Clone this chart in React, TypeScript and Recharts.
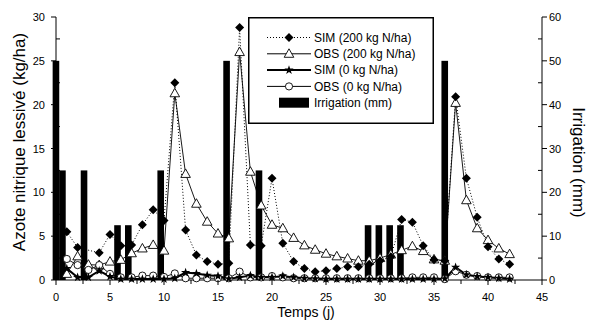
import { Bar, ComposedChart, Label, Legend, Line, XAxis, YAxis } from "recharts";

const FONT = "'Liberation Sans', Arial, sans-serif";

// days 0..42
const days = Array.from({ length: 43 }, (_, i) => i);

const sim200 = [
  null, 5.5, 3.7, null, 3.1, 5.2, 3.9, 4.0, 6.3, 8.0, 6.8,
  22.5, 5.7, 2.85, 2.1, 1.8, 1.9, 28.8, 4.0, 3.9, 11.6,
  4.2, 2.1, 1.3, 0.95, 1.05, 1.3, 1.5, 1.5, 1.8, 2.2,
  2.65, 6.9, 6.6, 3.9, 2.3, 2.2, 20.9, 11.6, 7.15, 3.8,
  2.4, 1.8,
];
const obs200 = [
  null, 0.7, 2.7, 1.75, 1.7, 2.1, 2.3, 3.05, 3.6, 4.0, 3.35,
  21.3, 12.1, 8.7, 6.65, 5.3, 4.75, 26.0, 12.35, 8.5, 6.3,
  5.9, 4.8, 3.95, 3.45, 3.0, 2.7, 2.45, 2.2, 2.2, 2.5,
  2.9, 3.4, 3.85, 3.3, 2.35, 2.2, 20.2, 9.1, 5.9, 4.55,
  3.6, 2.95,
];
const sim0 = [
  null, 1.3, 0.3, 0.3, 1.05, 0.4, 0.1, 0.1, 0.1, 0.1, 0.1,
  0.2, 0.85, 0.75, 0.55, 0.45, 0.15, 0.3, 0.5, 0.3, 0.3,
  0.45, 0.3, 0.2, 0.15, 0.1, 0.1, 0.1, 0.1, 0.1, 0.1,
  0.1, 0.1, 0.1, 0.1, 0.1, 0.15, 1.45, 0.6, 0.4, 0.3,
  0.2, 0.1,
];
const obs0 = [
  null, 2.4, 1.7, 1.15, 1.7, 0.7, 0.3, 0.3, 0.5, 0.5, 0.35,
  0.75, 0.2, 0.2, 0.2, 0.2, 0.2, 0.95, 0.3, 0.3, 0.45,
  0.3, 0.2, 0.2, 0.2, 0.2, 0.2, 0.2, 0.2, 0.2, 0.2,
  0.2, 0.2, 0.3, 0.3, 0.3, 0.1, 1.0, 0.6, 0.45, 0.3,
  0.3, 0.3,
];

const irrigDays = [0, 0.6, 2.6, 5.7, 6.7, 9.7, 15.8, 18.8, 28.9, 29.9, 30.9, 31.9, 36];
const irrigMm = [50, 25, 25, 12.5, 12.5, 25, 50, 25, 12.5, 12.5, 12.5, 12.5, 50];

const xTicks = [0, 2.5, 5, 7.5, 10, 12.5, 15, 17.5, 20, 22.5, 25, 27.5, 30, 32.5, 35, 37.5, 40, 42.5, 45];
const leftTicks = [0, 2.5, 5, 7.5, 10, 12.5, 15, 17.5, 20, 22.5, 25, 27.5, 30];
const rightTicks = [0, 5, 10, 15, 20, 25, 30, 35, 40, 45, 50, 55, 60];

const legendNames = [
  "SIM (200 kg N/ha)",
  "OBS (200 kg N/ha)",
  "SIM (0 kg N/ha)",
  "OBS (0 kg N/ha)",
  "Irrigation (mm)",
];

const toSeries = (vals: (number | null)[]) =>
  days.map((d, i) => ({ day: d, v: vals[i] })).filter((p) => p.v !== null);

const irrigData = irrigDays.map((d, i) => ({ day: d, mm: irrigMm[i] }));

// markers
const Diamond = ({ cx, cy }: any) => (
  <path d={`M${cx},${cy - 4.5}L${cx + 4.5},${cy}L${cx},${cy + 4.5}L${cx - 4.5},${cy}Z`} fill="#000" />
);
const Triangle = ({ cx, cy }: any) => (
  <path
    d={`M${cx},${cy - 5}L${cx + 4.8},${cy + 3.5}L${cx - 4.8},${cy + 3.5}Z`}
    fill="#fff"
    stroke="#000"
    strokeWidth={0.9}
  />
);
const Star = ({ cx, cy }: any) => {
  let d = "";
  for (let i = 0; i < 10; i++) {
    const r = i % 2 === 0 ? 4.8 : 1.9;
    const a = -Math.PI / 2 + (i * Math.PI) / 5;
    d += `${i === 0 ? "M" : "L"}${cx + r * Math.cos(a)},${cy + r * Math.sin(a)}`;
  }
  return <path d={d + "Z"} fill="#000" />;
};
const Circ = ({ cx, cy }: any) => <circle cx={cx} cy={cy} r={3.6} fill="#fff" stroke="#000" strokeWidth={0.9} />;

const dotOf = (Comp: any) => (p: any) =>
  p.cx == null ? <g key={p.key ?? p.index} /> : <Comp key={p.key ?? p.index} cx={p.cx} cy={p.cy} />;

// ticks
const bottomTick = (p: any) => {
  const v = p.payload.value;
  const major = v % 5 === 0;
  return (
    <g>
      <line x1={p.x} x2={p.x} y1={p.y} y2={p.y + (major ? 5 : 4)} stroke="#000" />
      {major && (
        <text x={p.x} y={p.y + 21} textAnchor="middle" fontSize={11} fontFamily={FONT} fill="#000">
          {v}
        </text>
      )}
    </g>
  );
};
const topTick = (p: any) => <line x1={p.x} x2={p.x} y1={p.y} y2={p.y + 6} stroke="#000" />;
const leftTick = (p: any) => {
  const v = p.payload.value;
  const major = v % 5 === 0;
  return (
    <g>
      <line x1={major ? p.x - 5 : p.x} x2={major ? p.x : p.x + 4} y1={p.y} y2={p.y} stroke="#000" />
      {major && (
        <text x={p.x - 11} y={p.y + 4} textAnchor="end" fontSize={11} fontFamily={FONT} fill="#000">
          {v}
        </text>
      )}
    </g>
  );
};
const rightTick = (p: any) => {
  const v = p.payload.value;
  const major = v % 10 === 0;
  return (
    <g>
      <line x1={major ? p.x : p.x - 4} x2={major ? p.x + 5 : p.x} y1={p.y} y2={p.y} stroke="#000" />
      {major && (
        <text x={p.x + 7} y={p.y + 4} textAnchor="start" fontSize={11} fontFamily={FONT} fill="#000">
          {v}
        </text>
      )}
    </g>
  );
};

const IrrigBar = (p: any) => (
  <rect x={p.x + p.width / 2 - 3.3} y={p.y} width={6.6} height={p.height} fill="#000" />
);

const renderLegend = () => {
  const rows = legendNames.map((name, i) => {
    const y = 20.5 + i * 16.3;
    let sample;
    if (i === 0)
      sample = (
        <g>
          <line x1={19} x2={63} y1={y} y2={y} stroke="#000" strokeDasharray="1 2" />
          <Diamond cx={41} cy={y} />
        </g>
      );
    else if (i === 1)
      sample = (
        <g>
          <line x1={19} x2={63} y1={y} y2={y} stroke="#000" />
          <Triangle cx={41} cy={y} />
        </g>
      );
    else if (i === 2)
      sample = (
        <g>
          <line x1={19} x2={63} y1={y} y2={y} stroke="#000" strokeWidth={2} />
          <Star cx={41} cy={y} />
        </g>
      );
    else if (i === 3)
      sample = (
        <g>
          <line x1={19} x2={63} y1={y} y2={y} stroke="#000" />
          <Circ cx={41} cy={y} />
        </g>
      );
    else sample = <rect x={31} y={y - 5} width={30} height={10} fill="#000" />;
    return (
      <g key={name}>
        {sample}
        <text x={66} y={y + 4.3} fontSize={12} fontFamily={FONT} fill="#000">
          {name}
        </text>
      </g>
    );
  });
  return (
    <svg width={186} height={107} style={{ display: "block" }}>
      <rect x={0.75} y={0.75} width={184.5} height={105.5} fill="#fff" stroke="#000" strokeWidth={1.5} />
      {rows}
    </svg>
  );
};

export default function App() {
  return (
    <div style={{ position: "absolute", left: 0, top: 0, background: "#fff" }}>
      <ComposedChart width={589} height={324} data={irrigData} margin={{ top: 17, right: 0, bottom: 0, left: 0 }}>
        <XAxis
          xAxisId="b"
          dataKey="day"
          type="number"
          domain={[0, 45]}
          ticks={xTicks}
          interval={0}
          tickSize={0}
          tickMargin={0}
          tickLine={false}
          tick={bottomTick}
          height={44}
          axisLine={{ stroke: "#000" }}
        >
          <Label value="Temps (j)" position="center" dx={7} dy={10} fontSize={14} fontFamily={FONT} fill="#000" />
        </XAxis>
        <XAxis
          xAxisId="t"
          orientation="top"
          type="number"
          domain={[0, 45]}
          ticks={xTicks}
          interval={0}
          tickSize={0}
          tickMargin={0}
          tickLine={false}
          tick={topTick}
          height={0}
          axisLine={{ stroke: "#000" }}
        />
        <YAxis
          yAxisId="left"
          type="number"
          domain={[0, 30]}
          ticks={leftTicks}
          interval={0}
          tickSize={0}
          tickMargin={0}
          tickLine={false}
          tick={leftTick}
          width={56}
          axisLine={{ stroke: "#000" }}
        >
          <Label
            value="Azote nitrique lessivé (kg/ha)"
            angle={-90}
            position="center"
            dx={-9}
            dy={-6.5}
            fontSize={17}
            fontFamily={FONT}
            fill="#000"
          />
        </YAxis>
        <YAxis
          yAxisId="right"
          orientation="right"
          type="number"
          domain={[0, 60]}
          ticks={rightTicks}
          interval={0}
          tickSize={0}
          tickMargin={0}
          tickLine={false}
          tick={rightTick}
          width={47}
          axisLine={{ stroke: "#000" }}
        >
          <Label
            value="Irrigation (mm)"
            angle={90}
            position="center"
            dx={14}
            dy={14}
            fontSize={17}
            fontFamily={FONT}
            fill="#000"
          />
        </YAxis>
        <Line
          xAxisId="b"
          yAxisId="left"
          data={toSeries(obs200)}
          dataKey="v"
          name={legendNames[1]}
          stroke="#000"
          strokeWidth={0.9}
          dot={dotOf(Triangle)}
          isAnimationActive={false}
        />
        <Line
          xAxisId="b"
          yAxisId="left"
          data={toSeries(sim200)}
          dataKey="v"
          name={legendNames[0]}
          stroke="#000"
          strokeWidth={1}
          strokeDasharray="1 2"
          dot={dotOf(Diamond)}
          isAnimationActive={false}
        />
        <Line
          xAxisId="b"
          yAxisId="left"
          data={toSeries(obs0)}
          dataKey="v"
          name={legendNames[3]}
          stroke="#000"
          strokeWidth={0.9}
          dot={dotOf(Circ)}
          isAnimationActive={false}
        />
        <Line
          xAxisId="b"
          yAxisId="left"
          data={toSeries(sim0)}
          dataKey="v"
          name={legendNames[2]}
          stroke="#000"
          strokeWidth={2}
          dot={dotOf(Star)}
          isAnimationActive={false}
        />
        <Bar
          xAxisId="b"
          yAxisId="right"
          dataKey="mm"
          name={legendNames[4]}
          fill="#000"
          barSize={7}
          shape={IrrigBar}
          isAnimationActive={false}
        />
        <Legend
          layout="vertical"
          align="center"
          verticalAlign="middle"
          wrapperStyle={{ left: 248, top: 17, width: 186, height: 107 }}
          content={renderLegend}
        />
      </ComposedChart>
    </div>
  );
}
